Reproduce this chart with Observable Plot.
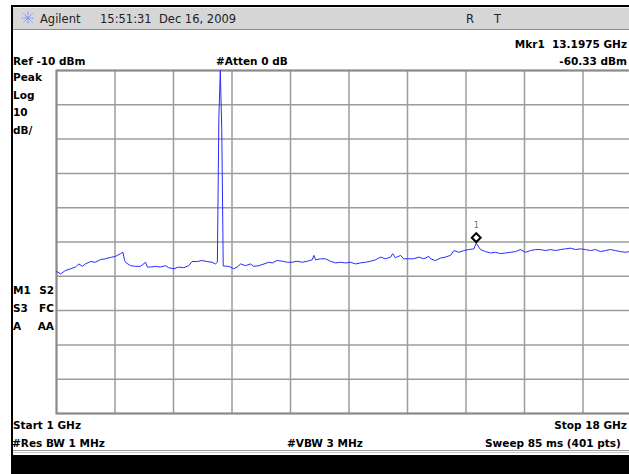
<!DOCTYPE html>
<html>
<head>
<meta charset="utf-8">
<script src="https://cdn.jsdelivr.net/npm/d3@7"></script>
<script src="https://cdn.jsdelivr.net/npm/@observablehq/plot@0.6"></script>
<style>
  html, body { margin: 0; padding: 0; background: #fff; overflow: hidden; width: 629px; height: 474px; }
  #wrap { position: relative; width: 660px; height: 474px; }
  #chart { position: absolute; left: 0; top: 0; }
  .lbl { position: absolute; font-family: "DejaVu Sans", sans-serif; font-weight: bold; font-size: 10.5px; line-height: 12px; color: #000; white-space: pre; }
  .hdr { position: absolute; font-family: "DejaVu Sans", sans-serif; font-size: 11.5px; line-height: 14px; color: #222; white-space: pre; }
</style>
</head>
<body>
<div id="wrap">
  <div id="chart"></div>
</div>
<script>
// ---- data ----
const freqGHz = [
  1.00, 1.12, 1.26, 1.41, 1.55, 1.65, 1.75, 1.84, 1.99, 2.13,
  2.28, 2.42, 2.57, 2.71, 2.86, 2.93, 2.98, 3.03, 3.15, 3.30,
  3.44, 3.59, 3.64, 3.73, 3.88, 4.02, 4.17, 4.26, 4.41, 4.55,
  4.70, 4.84, 4.94, 5.09, 5.23, 5.38, 5.52, 5.62, 5.675, 5.7175,
  5.76, 5.8025, 5.845, 6.01, 6.15, 6.25, 6.35, 6.49, 6.64, 6.73,
  6.88, 7.03, 7.17, 7.27, 7.41, 7.56, 7.71, 7.85, 8.00, 8.14,
  8.29, 8.43, 8.48, 8.53, 8.67, 8.82, 8.96, 9.11, 9.25, 9.40,
  9.54, 9.69, 9.83, 9.98, 10.12, 10.27, 10.42, 10.56, 10.71, 10.77,
  10.85, 11.00, 11.09, 11.24, 11.38, 11.53, 11.67, 11.82, 11.87, 12.01,
  12.16, 12.30, 12.45, 12.55, 12.69, 12.84, 12.98, 13.13, 13.1975, 13.32,
  13.47, 13.61, 13.76, 13.90, 14.05, 14.19, 14.34, 14.48, 14.63, 14.77,
  14.92, 15.06, 15.21, 15.36, 15.50, 15.65, 15.79, 15.94, 16.08, 16.23,
  16.37, 16.52, 16.66, 16.81, 16.95, 17.10, 17.24, 17.39, 17.53, 17.65,
  17.82, 18.00
];
const levelDBm = [
  -68.6, -69.3, -68.3, -67.8, -67.3, -66.4, -67.1, -66.4, -65.7, -65.9,
  -65.1, -64.9, -64.5, -64.2, -63.4, -63.0, -65.4, -66.1, -66.9, -67.1,
  -67.1, -65.9, -67.3, -67.3, -67.1, -67.3, -66.9, -67.5, -67.8, -67.3,
  -67.5, -66.9, -65.7, -65.7, -65.4, -65.7, -65.9, -66.4, -65.9, -24.0,
  -10.0, -27.0, -67.0, -67.1, -67.8, -67.3, -66.4, -66.9, -66.4, -67.1,
  -66.9, -66.4, -65.9, -66.1, -65.4, -65.6, -65.9, -65.9, -65.6, -65.9,
  -65.6, -65.2, -63.9, -65.2, -64.9, -64.9, -65.6, -66.1, -65.9, -66.1,
  -65.9, -66.4, -66.1, -65.9, -65.6, -65.2, -64.4, -64.9, -64.4, -63.4,
  -64.6, -63.9, -64.9, -64.9, -64.9, -64.4, -64.9, -64.2, -64.9, -65.4,
  -64.7, -64.4, -63.9, -62.5, -63.0, -62.5, -62.2, -62.0, -60.33, -62.2,
  -62.8, -63.2, -63.0, -63.4, -63.2, -63.0, -62.8, -62.2, -63.0, -62.5,
  -62.2, -62.2, -62.5, -62.2, -62.5, -62.2, -62.0, -61.8, -62.2, -62.0,
  -62.2, -62.5, -62.2, -62.8, -62.5, -62.2, -62.5, -62.8, -63.0, -62.8,
  -62.6, -62.8
];
const xDivisions = [1, 2.7, 4.4, 6.1, 7.8, 9.5, 11.2, 12.9, 14.6, 16.3, 18];
const yDivisions = [-10, -20, -30, -40, -50, -60, -70, -80, -90, -100, -110];
const marker = [{f: 13.1975, dBm: -60.33, label: "1"}];

const trace = freqGHz.map((f, i) => ({f, dBm: levelDBm[i]}));

const plot = Plot.plot({
  width: 660,
  height: 474,
  marginLeft: 56,
  marginRight: 19,
  marginTop: 70,
  marginBottom: 61,
  style: {background: "transparent"},
  x: {domain: [1, 18], axis: null},
  y: {domain: [-110, -10], axis: null},
  marks: [
    Plot.ruleX(xDivisions, {stroke: "#9c9c9c", strokeWidth: 1.5}),
    Plot.ruleY(yDivisions, {stroke: "#9c9c9c", strokeWidth: 1.5}),
    Plot.frame({stroke: "#8a8a8a", strokeWidth: 2}),
    Plot.line(trace, {x: "f", y: "dBm", stroke: "#2b2bff", strokeWidth: 1}),
    Plot.dot(marker, {x: "f", y: "dBm", symbol: "diamond2", r: 4, dy: -5.5, stroke: "#000", strokeWidth: 2, fill: "#fff"}),
    Plot.text(marker, {x: "f", y: "dBm", text: "label", dy: -18, fontSize: 8, fill: "#666", fontFamily: "DejaVu Sans Mono"})
  ]
});
document.getElementById("chart").appendChild(plot);

// ---- instrument screen decorations and labels ----
const wrap = document.getElementById("wrap");
function box(l, t, w, h, bg, extra) {
  const d = document.createElement("div");
  d.style.cssText = `position:absolute;left:${l}px;top:${t}px;width:${w}px;height:${h}px;background:${bg};${extra || ""}`;
  wrap.appendChild(d);
  return d;
}
function txt(cls, s, l, t, extra) {
  const d = document.createElement("div");
  d.className = cls;
  d.textContent = s;
  d.style.left = l + "px";
  d.style.top = t + "px";
  if (extra) d.style.cssText += extra;
  wrap.appendChild(d);
  return d;
}
// outer black border
box(11, 5, 649, 2, "#000");
box(11, 5, 2, 469, "#000");
// header bar
box(13, 7, 647, 22, "#d6d6d6", "border-bottom:1px solid #8c8c8c;");
box(13, 7, 647, 1, "#eeeeee");
// logo
const logo = document.createElementNS("http://www.w3.org/2000/svg", "svg");
logo.setAttribute("width", "14"); logo.setAttribute("height", "14");
logo.style.cssText = "position:absolute;left:21px;top:11px;";
logo.innerHTML = '<g stroke="#6f7ff0" stroke-width="1" stroke-dasharray="1.2 0.8">' +
  '<line x1="7" y1="1" x2="7" y2="13"/><line x1="1" y1="7" x2="13" y2="7"/>' +
  '<line x1="2.5" y1="2.5" x2="11.5" y2="11.5"/><line x1="11.5" y1="2.5" x2="2.5" y2="11.5"/></g>';
wrap.appendChild(logo);
txt("hdr", "Agilent", 40, 12);
txt("hdr", "15:51:31  Dec 16, 2009", 100, 12);
txt("hdr", "R", 466, 12);
txt("hdr", "T", 494, 12);

// bold annotation labels
txt("lbl", "Ref -10 dBm", 13, 55);
txt("lbl", "#Atten 0 dB", 216, 55);
txt("lbl", "Mkr1  13.1975 GHz", 0, 38, "left:auto;right:33px;");
txt("lbl", "-60.33 dBm", 0, 55, "left:auto;right:33px;");
txt("lbl", "Peak", 13, 71);
txt("lbl", "Log", 13, 88.5);
txt("lbl", "10", 13, 106);
txt("lbl", "dB/", 13, 123.5);
txt("lbl", "M1", 13, 284);
txt("lbl", "S2", 0, 284, "left:auto;right:606px;");
txt("lbl", "S3", 13, 301.5);
txt("lbl", "FC", 0, 301.5, "left:auto;right:606px;");
txt("lbl", "A", 13, 319.5);
txt("lbl", "AA", 0, 319.5, "left:auto;right:606px;");
txt("lbl", "Start 1 GHz", 13, 418.5);
txt("lbl", "Stop 18 GHz", 0, 418.5, "left:auto;right:33px;");
txt("lbl", "#Res BW 1 MHz", 12, 436.5);
txt("lbl", "#VBW 3 MHz", 287, 436.5);
txt("lbl", "Sweep 85 ms (401 pts)", 485, 436.5);

// bottom status bar
box(13, 450, 647, 1, "#a0a0a0");
box(13, 452, 647, 1, "#c8c8c8");
box(13, 455, 647, 19, "#000");
</script>
</body>
</html>
